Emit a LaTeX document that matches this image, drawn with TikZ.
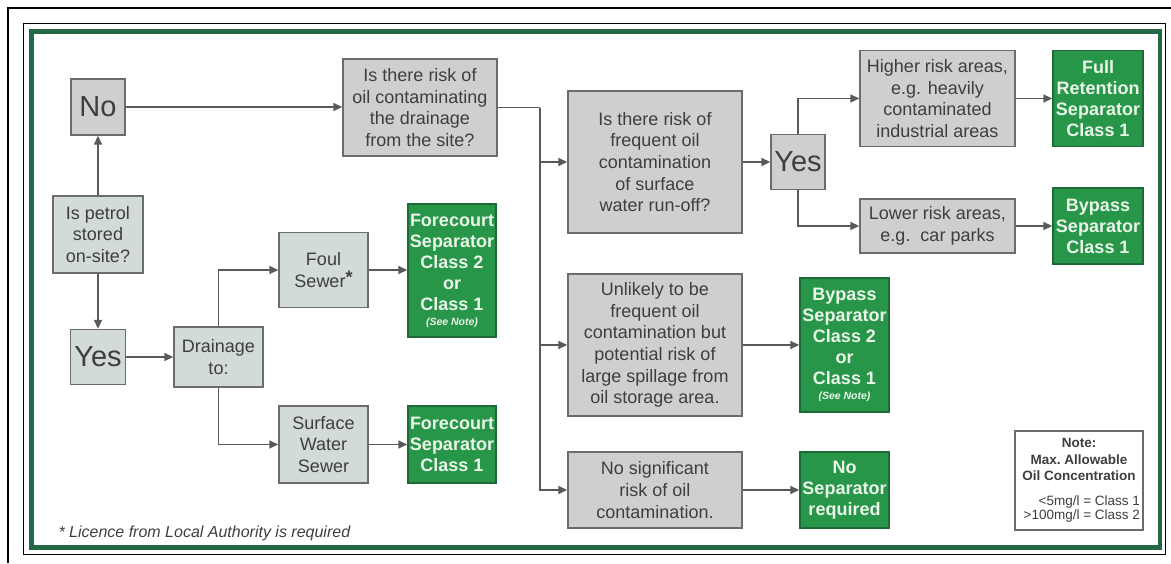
\documentclass[tikz,border=0pt]{standalone}
\usepackage{fontspec}
\setmainfont{Liberation Sans}
\usetikzlibrary{arrows.meta}
\definecolor{boxgray}{RGB}{206,207,209}
\definecolor{boxsage}{RGB}{210,219,214}
\definecolor{edgegray}{RGB}{108,108,108}
\definecolor{inkgray}{RGB}{62,62,62}
\definecolor{sepgreen}{RGB}{40,150,72}
\definecolor{sepedge}{RGB}{30,105,55}
\definecolor{sepink}{RGB}{234,246,234}
\definecolor{framegreen}{RGB}{36,104,70}
\definecolor{linkgray}{RGB}{90,90,90}

\tikzset{
  qbox/.style={draw=edgegray, line width=1.4pt, fill=boxgray, text=inkgray,
    align=center, inner sep=0pt, font=\fontsize{18}{21.7}\selectfont},
  sagebox/.style={qbox, fill=boxsage},
  bigword/.style={font=\fontsize{29}{30}\selectfont},
  sepbox/.style={draw=sepedge, line width=1.4pt, fill=sepgreen, text=sepink,
    align=center, inner sep=0pt, font=\fontsize{18}{21}\selectfont\bfseries},
  link/.style={draw=linkgray, line width=1.5pt, -{Triangle[length=9pt,width=8pt]}},
  plainlink/.style={draw=linkgray, line width=1.5pt},
}
\newcommand{\seenote}{\\[-6pt]{\fontsize{10.5}{12}\selectfont\bfseries\itshape (See Note)}}

\begin{document}
\begin{tikzpicture}[x=1pt, y=-1pt]
\useasboundingbox (0,0) rectangle (1171,563);

% === frame ===
\draw[black, line width=2pt] (8,563) -- (8,8) -- (1171,8);
\draw[black, line width=1.2pt] (23.5,23.5) rectangle (1165.5,554.5);
\draw[framegreen, line width=4.5pt] (31.5,31.5) rectangle (1160,547.5);

% === petrol question ===
\node[qbox, bigword, minimum width=54pt, minimum height=56pt] (no) at (98,107) {No};
\node[sagebox, minimum width=90pt, minimum height=77pt] (petrol) at (98,234.5) {Is petrol\\stored\\on-site?};
\node[sagebox, bigword, minimum width=55pt, minimum height=55pt] (yesl) at (98,357) {Yes};
\node[sagebox, minimum width=89pt, minimum height=60pt] (drain) at (218.5,357) {Drainage\\to:};
\node[sagebox, minimum width=89pt, minimum height=75pt] (foul) at (323.5,270) {Foul\\Sewer\raisebox{4pt}{\bfseries *}};
\node[sagebox, minimum width=89pt, minimum height=77pt] (surf) at (323.5,444.5) {Surface\\Water\\Sewer};
\node[sepbox, minimum width=88pt, minimum height=133pt] (fcsep2) at (452,270.5) {Forecourt\\Separator\\Class 2\\or\\Class 1\seenote};
\node[sepbox, minimum width=88pt, minimum height=77pt] (fcsep1) at (452,444.5) {Forecourt\\Separator\\Class 1};

% === drainage risk ===
\node[qbox, minimum width=154pt, minimum height=97pt] (q1) at (420,107.5) {Is there risk of\\oil contaminating\\the drainage\\from the site?};
\node[qbox, minimum width=174pt, minimum height=142pt] (q2) at (655,162) {Is there risk of\\frequent oil\\contamination\\of surface\\water run-off?};
\node[qbox, minimum width=174pt, minimum height=142pt] (unlik) at (655,345) {Unlikely to be\\frequent oil\\contamination but\\potential risk of\\large spillage from\\oil storage area.};
\node[qbox, minimum width=174pt, minimum height=76pt] (nosig) at (655,490) {No significant\\risk of oil\\contamination.};
\node[sepbox, minimum width=89pt, minimum height=134pt] (bpsep2) at (844.5,345) {Bypass\\Separator\\Class 2\\or\\Class 1\seenote};
\node[sepbox, minimum width=89pt, minimum height=76pt] (nosep) at (844.5,490) {No\\Separator\\required};

% === frequent risk ===
\node[qbox, bigword, minimum width=54pt, minimum height=55pt] (yesr) at (798,162) {Yes};
\node[qbox, minimum width=155pt, minimum height=96pt] (high) at (937.5,98.5) {Higher risk areas,\\e.g. heavily\\contaminated\\industrial areas};
\node[qbox, minimum width=155pt, minimum height=54pt] (low) at (937.5,226) {Lower risk areas,\\e.g.\ \ car parks};
\node[sepbox, minimum width=90pt, minimum height=96pt] (frsep) at (1098,98.5) {Full\\Retention\\Separator\\Class 1};
\node[sepbox, minimum width=90pt, minimum height=76pt] (bpsep1) at (1098,226) {Bypass\\Separator\\Class 1};

% === note and footnote ===
\node[draw=edgegray, line width=1.2pt, fill=white, text=inkgray, align=center,
  inner sep=0pt, minimum width=128pt, minimum height=99pt,
  font=\fontsize{13.5}{16.5}\selectfont\bfseries] (note) at (1079,480.5)
  {Note:\\Max.\ Allowable\\Oil Concentration\\[8pt]
   \makebox[122pt][r]{\mdseries <5mg/l = Class 1}\\[-2pt]
   \makebox[122pt][r]{\mdseries >100mg/l = Class 2}};
\node[font=\fontsize{16}{18}\selectfont\itshape, text=inkgray, anchor=west] (foot) at (55,533) {* Licence from Local Authority is required};

% === connectors ===
\draw[link] (petrol) -- (no);
\draw[link] (petrol) -- (yesl);
\draw[link] (no.east) -- (no.east -| q1.west);
\draw[link] (yesl) -- (drain);
\draw[link] (drain.north) |- (foul.west);
\draw[link] (drain.south) |- (surf.west);
\draw[link] (foul.east) -- (foul.east -| fcsep2.west);
\draw[link] (surf) -- (fcsep1);
\coordinate (split) at (540,107.5);
\draw[plainlink] (q1.east) -- (split);
\draw[link] (split) |- (nosig.west);
\draw[link] (split |- q2.west) -- (q2.west);
\draw[link] (split |- unlik.west) -- (unlik.west);
\draw[link] (q2) -- (yesr);
\draw[link] (yesr.north) |- (high.west);
\draw[link] (yesr.south) |- (low.west);
\draw[link] (high) -- (frsep);
\draw[link] (low) -- (bpsep1);
\draw[link] (unlik) -- (bpsep2);
\draw[link] (nosig) -- (nosep);

\end{tikzpicture}
\end{document}
